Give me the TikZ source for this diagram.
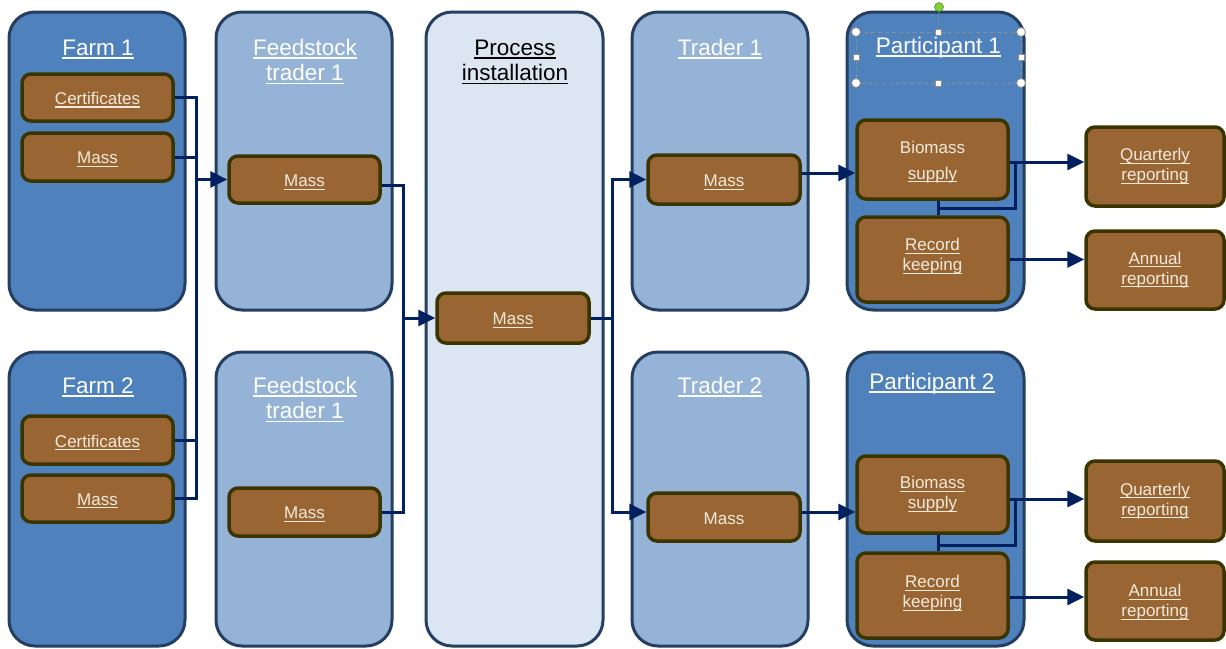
\documentclass[tikz,border=0pt]{standalone}
\usepackage{fontspec}
\setmainfont{Liberation Sans}
\usetikzlibrary{arrows.meta}
\definecolor{cbd}{HTML}{243F60}
\definecolor{farm}{HTML}{4F81BD}
\definecolor{mid}{HTML}{95B3D7}
\definecolor{proc}{HTML}{DCE6F2}
\definecolor{brn}{HTML}{996633}
\definecolor{bbd}{HTML}{3A3500}
\definecolor{crm}{HTML}{F3E9DC}
\definecolor{cn}{HTML}{002060}
\definecolor{selg}{HTML}{8C8C8C}
\definecolor{grn}{HTML}{7ED03C}
\newcommand{\myul}[1]{\setbox0\hbox{#1}\rlap{\vrule height -0.10em depth 0.165em width \wd0}\box0}
\newcommand{\shft}[2]{\raisebox{#1}[\height][\depth]{#2}}
\begin{document}
\begin{tikzpicture}[x=1pt,y=-1pt,
  cont/.style={draw=cbd, line width=3pt, rounded corners=26pt, inner sep=0pt},
  ttl/.style={font=\fontsize{22.5}{27}\selectfont, text=white, anchor=base, inner sep=0pt},
  bb/.style={draw=bbd, fill=brn, line width=3.5pt, rounded corners=9pt, inner sep=0pt, align=center, text=crm, font=\fontsize{17}{20}\selectfont},
  sz/.style 2 args={minimum width=#1pt, minimum height=#2pt},
  conn/.style={draw=cn, line width=3pt},
  arr/.style={conn, -{Triangle[length=17pt,width=16pt]}}
]
\useasboundingbox (0,0) rectangle (1226,648);

% containers
\node[cont, fill=farm, sz={176}{298}] (farm1) at (97,161) {};
\node[cont, fill=farm, sz={176}{294}] (farm2) at (97,499) {};
\node[cont, fill=mid, sz={176}{298}] (fs1) at (304,161) {};
\node[cont, fill=mid, sz={176}{294}] (fs2) at (304,499) {};
\node[cont, fill=proc, sz={177}{634}] (proc) at (514.5,329) {};
\node[cont, fill=mid, sz={176}{298}] (tr1) at (720,161) {};
\node[cont, fill=mid, sz={176}{294}] (tr2) at (720,499) {};
\node[cont, fill=farm, sz={177}{298}] (pa1) at (935.5,161) {};
\node[cont, fill=farm, sz={177}{294}] (pa2) at (935.5,499) {};

% titles
\node[ttl] (farm1t) at (98,55) {\myul{Farm 1}};
\node[ttl] (fs1ta) at (305,55) {\myul{Feedstock}};
\node[ttl] (fs1tb) at (305,80.5) {\myul{trader 1}};
\node[ttl, text=black] (procta) at (515,55) {\myul{Process}};
\node[ttl, text=black] (proctb) at (515,80.5) {\myul{installation}};
\node[ttl] (tr1t) at (720,55) {\myul{Trader 1}};
\node[ttl] (pa1t) at (938.5,53) {\myul{Participant 1}};
\node[ttl] (farm2t) at (98,393) {\myul{Farm 2}};
\node[ttl] (fs2ta) at (305,393) {\myul{Feedstock}};
\node[ttl] (fs2tb) at (305,418.5) {\myul{trader 1}};
\node[ttl] (tr2t) at (720,393) {\myul{Trader 2}};
\node[ttl] (pa2t) at (932,389) {\myul{Participant 2}};

% selection handles around Participant 1 title
\draw[selg, line width=0.8pt, dash pattern=on 4pt off 3pt] (856,32) rectangle (1021,83);
\draw[selg, line width=0.8pt, dash pattern=on 2pt off 2pt] (939,11.5) -- (938,29);
\foreach \px/\py in {856/32,1021/32,856/83,1021/83}
  \filldraw[fill=white, draw=selg, line width=0.8pt] (\px,\py) circle (4.5pt);
\foreach \px/\py in {938/32,938/83,856/57.5,1021/57.5}
  \filldraw[fill=white, draw=selg, line width=0.6pt] (\px-3,\py-3) rectangle ++(6,6);
\filldraw[fill=grn, draw=grn!70!black, line width=0.6pt] (939,7) circle (4.5pt);

% brown boxes
\node[bb, sz={151}{47}] (f1c) at (97.5,97.5) {\shft{-2.5pt}{\myul{Certificates}}};
\node[bb, sz={151}{48}] (f1m) at (97.5,157) {\shft{-2.5pt}{\myul{Mass}}};
\node[bb, sz={151}{47}] (ft1m) at (304.5,179.5) {\shft{-3pt}{\myul{Mass}}};
\node[bb, sz={151}{48}] (f2c) at (97.5,440) {\shft{-2.5pt}{\myul{Certificates}}};
\node[bb, sz={151}{47}] (f2m) at (97.5,498.5) {\shft{-2.5pt}{\myul{Mass}}};
\node[bb, sz={151}{48}] (ft2m) at (304.5,512) {\shft{-2.5pt}{\myul{Mass}}};
\node[bb, sz={152}{50}] (pm) at (513,318) {\shft{-2.5pt}{\myul{Mass}}};
\node[bb, sz={152}{49}] (t1m) at (724,179.5) {\shft{-3pt}{\myul{Mass}}};
\node[bb, sz={152}{48}] (t2m) at (724,517) {\shft{-2pt}{Mass}};
\node[bb, sz={151}{79}, font=\fontsize{17}{26}\selectfont] (b1) at (932.5,159.5) {\shft{-2.5pt}{Biomass}\\\shft{-2.5pt}{\myul{supply}}};
\node[bb, sz={151}{85}] (r1) at (932.5,259.5) {\shft{3pt}{\myul{Record}}\\\shft{3pt}{\myul{keeping}}};
\node[bb, sz={138}{79}] (q1) at (1155,166.5) {\myul{Quarterly}\\\myul{reporting}};
\node[bb, sz={138}{78}] (a1) at (1155,270) {\myul{Annual}\\\myul{reporting}};
\node[bb, sz={151}{77}] (b2) at (932.5,494.5) {\myul{Biomass}\\\myul{supply}};
\node[bb, sz={151}{85}] (r2) at (932.5,595.5) {\shft{2pt}{\myul{Record}}\\\shft{2pt}{\myul{keeping}}};
\node[bb, sz={138}{80}] (q2) at (1155,501) {\myul{Quarterly}\\\myul{reporting}};
\node[bb, sz={138}{78}] (a2) at (1155,601) {\shft{-1.5pt}{\myul{Annual}}\\\shft{-1.5pt}{\myul{reporting}}};

% connectors: farms -> feedstock trader
\coordinate (busL) at (196,0);
\draw[conn] (f1c.east) -- (busL |- f1c.east) |- (f2m.east);
\draw[conn] (f1m.east) -- (busL |- f1m.east);
\draw[conn] (f2c.east) -- (busL |- f2c.east);
\draw[arr] (busL |- ft1m.west) -- (ft1m.west);

% feedstock traders -> process
\coordinate (busM) at (403,0);
\coordinate (ft1o) at ([yshift=-6pt]ft1m.east);
\draw[conn] (ft1o) -- (busM |- ft1o) |- (ft2m.east);
\draw[arr] (busM |- pm.west) -- (pm.west);

% process -> traders
\coordinate (busR) at (612,0);
\coordinate (t2i) at ([yshift=5pt]t2m.west);
\draw[conn] (pm.east) -- (busR |- pm.east);
\draw[arr] (busR |- pm.east) |- (t1m.west);
\draw[arr] (busR |- pm.east) |- (t2i);

% traders -> participants
\coordinate (t1o) at ([yshift=6.5pt]t1m.east);
\draw[arr] (t1o) -- (t1o -| b1.west);
\coordinate (t2o) at ([yshift=5pt]t2m.east);
\draw[arr] (t2o) -- (t2o -| b2.west);

% participants -> reporting
\coordinate (b1o) at ([yshift=-2.5pt]b1.east);
\draw[arr] (b1o) -- (b1o -| q1.west);
\draw[arr] (r1.east) -- (r1.east -| a1.west);
\coordinate (b2o) at ([yshift=-4.5pt]b2.east);
\draw[arr] (b2o) -- (b2o -| q2.west);
\coordinate (r2o) at ([yshift=-1.5pt]r2.east);
\draw[arr] (r2o) -- (r2o -| a2.west);

% internal branches
\coordinate (j1) at (1015,0);
\draw[conn] ([xshift=5.5pt]b1.south) -- ([xshift=5.5pt]r1.north);
\coordinate (m1) at (938,208);
\draw[conn] (m1) -| (j1 |- b1o);
\draw[conn] ([xshift=5.5pt]b2.south) -- ([xshift=5.5pt]r2.north);
\coordinate (m2) at (938,545);
\draw[conn] (m2) -| (j1 |- b2o);
\end{tikzpicture}
\end{document}
